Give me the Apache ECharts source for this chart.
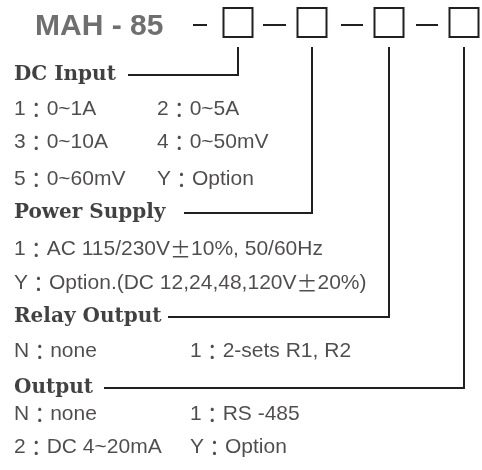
<!DOCTYPE html>
<html>
<head>
<meta charset="utf-8" />
<script src="https://cdn.jsdelivr.net/npm/echarts@6/dist/echarts.min.js"></script>
<style>body{margin:0;background:#fff}</style>
</head>
<body>
<div id="main" style="width:482px;height:470px;"></div>
<script>
// model code
const modelName = 'MAH - 85';
const slotNames = ['DC Input', 'Power Supply', 'Relay Output', 'Output'];

// option texts per slot
const dcInputOpts = ['1：0~1A', '2：0~5A', '3：0~10A', '4：0~50mV', '5：0~60mV', 'Y：Option'];
const powerOpts = ['1：AC 115/230V±10%, 50/60Hz', 'Y：Option.(DC 12,24,48,120V±20%)'];
const relayOpts = ['N：none', '1：2-sets R1, R2'];
const outputOpts = ['N：none', '1：RS -485', '2：DC 4~20mA', 'Y：Option'];

// layout (page units: x 0..482, y 0..470 downwards)
const codeRowY = 22.5;
const slotX = [238, 312, 389, 464];
const slotRowY = [75, 213, 317, 388];
const slotLineStart = [128, 184, 168, 104];
const dashSpans = [[193, 207], [263, 286], [341, 363], [416, 438]];
const dcRows = [109, 142, 179];
const powerRows = [249, 283];
const relayRows = [351];
const outputRows = [414, 447];
const leftCol = 14;
const dcCol2 = 157;
const outCol2 = 190;

const ink = '#231f20';

// text items: [x, y, text, kind]
const texts = [];
texts.push([35, 26.5, modelName, 'title']);
slotNames.forEach((n, i) => texts.push([leftCol, slotRowY[i], n, 'head']));
dcRows.forEach((y, i) => {
  texts.push([leftCol, y, dcInputOpts[i * 2], 'opt']);
  texts.push([dcCol2, y, dcInputOpts[i * 2 + 1], 'opt']);
});
powerRows.forEach((y, i) => texts.push([leftCol, y, powerOpts[i], 'opt']));
texts.push([leftCol, relayRows[0], relayOpts[0], 'opt']);
texts.push([outCol2, relayRows[0], relayOpts[1], 'opt']);
outputRows.forEach((y, i) => {
  texts.push([leftCol, y, outputOpts[i * 2], 'opt']);
  texts.push([outCol2, y, outputOpts[i * 2 + 1], 'opt']);
});

// wide glyphs (full-width colon, plus-minus) come from the CJK font
function richify(s) {
  return '{opt|' + s.replace(/([：±])/g, '}{w|$1}{opt|') + '}';
}

var myChart = echarts.init(document.getElementById('main'));

var option = {
  animation: false,
  backgroundColor: '#fff',
  grid: { left: 0, right: 0, top: 0, bottom: 0 },
  xAxis: { type: 'value', min: 0, max: 482, show: false },
  yAxis: { type: 'value', min: 0, max: 470, inverse: true, show: false },
  series: [
    {
      // code boxes
      type: 'custom',
      silent: true,
      data: slotX.map(x => [x, codeRowY]),
      renderItem: function (params, api) {
        const c = api.coord([api.value(0), api.value(1)]);
        return {
          type: 'rect',
          shape: { x: c[0] - 14.5, y: c[1] - 14.5, width: 29, height: 29 },
          style: { fill: 'none', stroke: ink, lineWidth: 2 }
        };
      }
    },
    {
      // dashes between the code parts
      type: 'custom',
      silent: true,
      data: dashSpans.map(d => [d[0], d[1], 25]),
      renderItem: function (params, api) {
        const a = api.coord([api.value(0), api.value(2)]);
        const b = api.coord([api.value(1), api.value(2)]);
        return {
          type: 'line',
          shape: { x1: a[0], y1: a[1], x2: b[0], y2: b[1] },
          style: { stroke: ink, lineWidth: 2 }
        };
      }
    },
    {
      // leader lines from each box down to its section title
      type: 'custom',
      silent: true,
      data: slotX.map((x, i) => [x, slotRowY[i], slotLineStart[i]]),
      renderItem: function (params, api) {
        const top = api.coord([api.value(0), 47]);
        const corner = api.coord([api.value(0), api.value(1)]);
        const end = api.coord([api.value(2), api.value(1)]);
        return {
          type: 'polyline',
          shape: { points: [top, corner, end] },
          style: { fill: 'none', stroke: ink, lineWidth: 2 }
        };
      }
    },
    {
      type: 'scatter',
      silent: true,
      symbolSize: 0,
      data: texts.map(t => ({ value: [t[0], t[1]], name: t[2], kind: t[3] })),
      label: {
        show: true,
        position: 'right',
        distance: 0,
        align: 'left',
        verticalAlign: 'middle',
        formatter: function (p) {
          const k = p.data.kind;
          return k === 'opt' ? richify(p.name) : '{' + k + '|' + p.name + '}';
        },
        rich: {
          title: { fontFamily: 'Liberation Sans', fontWeight: 'bold', fontSize: 30, color: '#4b4b4b' },
          head: { fontFamily: 'DejaVu Serif', fontWeight: 'bold', fontSize: 20, color: '#111' },
          opt: { fontFamily: 'Liberation Sans', fontSize: 21, color: ink },
          w: { fontFamily: 'Noto Sans CJK JP', fontSize: 21, color: ink }
        }
      }
    }
  ]
};

myChart.setOption(option);
</script>
</body>
</html>
